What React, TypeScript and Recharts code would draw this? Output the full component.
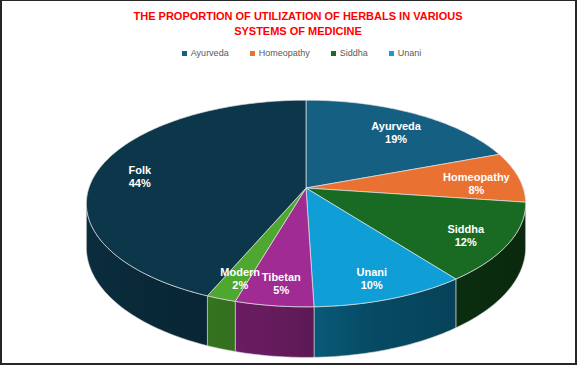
import { PieChart, Pie, Cell, Legend } from "recharts";

const systems = ["Ayurveda", "Homeopathy", "Siddha", "Unani", "Tibetan", "Modern", "Folk"];
const shares = [19.3, 7.9, 12.4, 9.9, 5.0, 1.9, 43.6];
const colors = ["#156082", "#E97132", "#196B24", "#0F9ED5", "#A02B93", "#4EA72E", "#0C374B"];
// Excel only fit the first four entries in the legend
const legendShown = ["Ayurveda", "Homeopathy", "Siddha", "Unani"];
const titleLines = ["THE PROPORTION OF UTILIZATION OF HERBALS IN VARIOUS", "SYSTEMS OF MEDICINE"];

const data = systems.map((name, i) => ({ name, value: shares[i] }));

const RAD = Math.PI / 180;
const TILT = 0.15; // perspective strength
const STRETCH = 2.15; // horizontal radius / vertical radius
const DEPTH = 43; // thickness of the disc
const EDGE = -Math.asin(TILT) / RAD; // silhouette angle on the right side
const FONT = "'Liberation Sans', Arial, sans-serif";

const project = (cx: number, cy: number, r: number, f: number, angle: number, drop = 0) => {
  const u = f * Math.cos(angle * RAD);
  const v = -f * Math.sin(angle * RAD);
  const w = 1 - TILT * v;
  return [cx + (STRETCH * r * u) / w, cy + (r * v + drop) / w];
};

const arc = (cx: number, cy: number, r: number, from: number, to: number, drop = 0) => {
  const n = Math.max(2, Math.ceil(Math.abs(from - to)));
  const pts: number[][] = [];
  for (let k = 0; k <= n; k++) pts.push(project(cx, cy, r, 1, from + ((to - from) * k) / n, drop));
  return pts;
};

const toPath = (pts: number[][]) =>
  pts.map((p, i) => `${i === 0 ? "M" : "L"}${p[0].toFixed(2)},${p[1].toFixed(2)}`).join(" ") + " Z";

const shade = (hex: string, k: number) => {
  const n = parseInt(hex.slice(1), 16);
  const r = Math.round(((n >> 16) & 255) * k);
  const g = Math.round(((n >> 8) & 255) * k);
  const b = Math.round((n & 255) * k);
  return `rgb(${r},${g},${b})`;
};

const Slice3D = (props: any) => {
  const { cx, cy, outerRadius, startAngle, endAngle, fill } = props;
  const top = [[cx, cy], ...arc(cx, cy, outerRadius, startAngle, endAngle)];
  const hi = Math.min(startAngle, EDGE);
  const lo = Math.max(endAngle, -180 - EDGE);
  const id = `wall-${String(fill).replace("#", "")}`;
  const left = cx - STRETCH * outerRadius * 1.02;
  const right = cx + STRETCH * outerRadius * 1.02;
  return (
    <g>
      {hi > lo && (
        <>
          <defs>
            <linearGradient id={id} gradientUnits="userSpaceOnUse" x1={left} x2={right} y1={0} y2={0}>
              <stop offset="0" stopColor={shade(fill, 0.8)} />
              <stop offset="0.45" stopColor={shade(fill, 0.62)} />
              <stop offset="0.65" stopColor={shade(fill, 0.47)} />
              <stop offset="1" stopColor={shade(fill, 0.38)} />
            </linearGradient>
          </defs>
          <path
            d={toPath([...arc(cx, cy, outerRadius, hi, lo), ...arc(cx, cy, outerRadius, lo, hi, DEPTH)])}
            fill={`url(#${id})`}
            stroke="#d9d9d9"
            strokeWidth={0.6}
            strokeLinejoin="round"
          />
        </>
      )}
      <path d={toPath(top)} fill={fill} stroke="#e3e3e3" strokeWidth={0.7} strokeLinejoin="round" />
    </g>
  );
};

const renderLabel = (props: any) => {
  const { cx, cy, outerRadius, midAngle, name, percent } = props;
  const [x, y] = project(cx, cy, outerRadius, 0.8, midAngle);
  return (
    <text x={x} y={y} fill="#ffffff" fontFamily={FONT} fontWeight="bold" fontSize={11} textAnchor="middle">
      <tspan x={x} dy={2}>{name}</tspan>
      <tspan x={x} dy={13}>{`${Math.round(percent * 100)}%`}</tspan>
    </text>
  );
};

const renderLegend = (props: any) => {
  const items = (props.payload || []).filter((p: any) => legendShown.includes(p.value));
  return (
    <div style={{ display: "flex", justifyContent: "center", gap: 21, fontFamily: FONT, fontSize: 9, color: "#595959" }}>
      {items.map((p: any) => (
        <div key={p.value} style={{ display: "flex", alignItems: "center" }}>
          <span style={{ width: 5, height: 5, background: p.color, marginRight: 4, display: "inline-block" }} />
          {p.value}
        </div>
      ))}
    </div>
  );
};

const App = () => {
  return (
    <div style={{ position: "absolute", left: 0, top: 0, width: 577, height: 365, background: "#fff" }}>
      <PieChart width={577} height={365}>
        <Legend verticalAlign="top" content={renderLegend} wrapperStyle={{ top: 48, left: 13, width: 577 }} />
        <Pie
          data={data}
          dataKey="value"
          nameKey="name"
          cx={301}
          cy={173}
          outerRadius={101}
          startAngle={90}
          endAngle={-270}
          shape={Slice3D}
          label={renderLabel}
          labelLine={false}
          legendType="square"
          isAnimationActive={false}
        >
          {data.map((d, i) => (
            <Cell key={d.name} fill={colors[i]} />
          ))}
        </Pie>
      </PieChart>
      <div
        style={{
          position: "absolute",
          left: 0,
          top: 9,
          width: 596,
          textAlign: "center",
          fontFamily: FONT,
          fontWeight: "bold",
          fontSize: 11,
          lineHeight: "15px",
          color: "#ff0000",
        }}
      >
        {titleLines.map((t) => (
          <div key={t}>{t}</div>
        ))}
      </div>
      <div
        style={{
          position: "absolute",
          inset: 0,
          border: "2px solid #262626",
          borderTopWidth: 1,
          pointerEvents: "none",
        }}
      />
    </div>
  );
};

export default App;
